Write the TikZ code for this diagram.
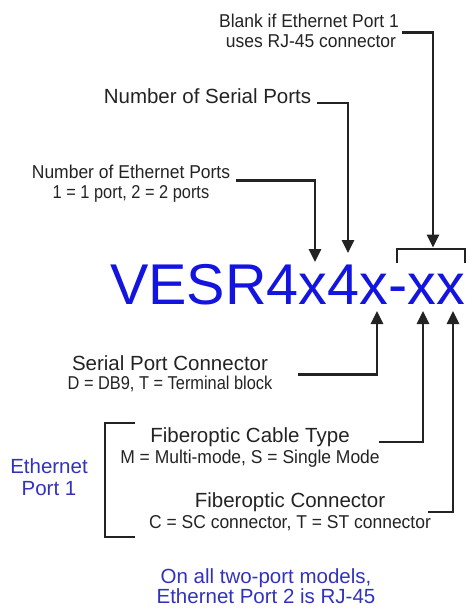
\documentclass[tikz,border=0pt]{standalone}
\usepackage{fontspec}
\setmainfont{Liberation Sans}
\newfontfamily\narrowA[FakeStretch=0.94]{Liberation Sans}
\newfontfamily\narrowB[FakeStretch=0.88]{Liberation Sans}
\usetikzlibrary{arrows.meta}
\definecolor{vblue}{RGB}{20,20,225}
\definecolor{pblue}{RGB}{50,50,190}
\definecolor{ink}{RGB}{35,35,35}
\begin{document}
\begin{tikzpicture}[x=1pt,y=-1pt,
  lbase/.style={inner sep=0pt, text height=0.72em, text depth=0pt, text=ink},
  big/.style={lbase, font=\fontsize{20.5}{22}\selectfont},
  small/.style={lbase, font=\narrowA\fontsize{18.6}{20}\selectfont},
  smaller/.style={lbase, font=\narrowB\fontsize{18.6}{20}\selectfont},
  bluebig/.style={lbase, text=pblue, font=\fontsize{20.5}{22}\selectfont},
  model/.style={inner sep=0pt, text=vblue, font=\fontsize{57.5}{60}\selectfont},
  conn/.style={draw=ink, line width=2.8pt, line join=miter},
  arr/.style={conn, -{Triangle[length=13pt,width=12pt]}}]
\useasboundingbox (0,0) rectangle (473,615);
% labels
\node[small] (b1) at (309,24) {Blank if Ethernet Port 1};
\node[small] (b2) at (311,44) {uses RJ-45 connector};
\node[big] (nsp) at (207.5,100) {Number of Serial Ports};
\node[small] (ne1) at (131,175) {Number of Ethernet Ports};
\node[smaller] (ne2) at (131,195) {1 = 1 port, 2 = 2 ports};
\node[model, anchor=base west] (model) at (110,304) {VESR4x4x-xx};
\node[big] (spc1) at (170,366.5) {Serial Port Connector};
\node[smaller] (spc2) at (170,386) {D = DB9, T = Terminal block};
\node[big] (fct1) at (250,439) {Fiberoptic Cable Type};
\node[small] (fct2) at (250,459.5) {M = Multi-mode, S = Single Mode};
\node[big] (fc1) at (290,504) {Fiberoptic Connector};
\node[small] (fc2) at (290,525) {C = SC connector, T = ST connector};
\node[bluebig] (ep1) at (49,469.5) {Ethernet};
\node[bluebig] (ep2) at (49,492) {Port 1};
\node[bluebig] (n1) at (266,579.5) {On all two-port models,};
\node[bluebig] (n2) at (266,600) {Ethernet Port 2 is RJ-45};
% target points
\coordinate (tE) at (315,262);
\coordinate (tS) at (348,253);
\coordinate (tB) at (433,247.5);
\coordinate (brL) at (397,263);
\coordinate (brR) at (465,263);
\coordinate (tSC) at (377,311);
\coordinate (tFT) at (423,311);
\coordinate (tFC) at (453,311);
\coordinate (lbT) at (135,423);
\coordinate (lbB) at (135,537);
% connectors
\draw[arr] ([xshift=3pt,yshift=-5pt]b1.south east) -| (tB);
\draw[arr] ([xshift=6pt,yshift=-3pt]nsp.east) -| (tS);
\draw[arr] ([xshift=6pt,yshift=-2pt]ne1.south east) -| (tE);
\draw[arr] ([xshift=30pt,yshift=-4pt]spc1.south east) -| (tSC);
\draw[arr] ([xshift=29pt,yshift=-3pt]fct1.east) -| (tFT);
\draw[arr] ([xshift=43pt,yshift=-8pt]fc1.east) -| (tFC);
% brackets
\draw[conn] (brL) -- ++(0,-14) -| (brR);
\draw[conn] (lbT) -- ++(-30,0) |- (lbB);
\end{tikzpicture}
\end{document}
